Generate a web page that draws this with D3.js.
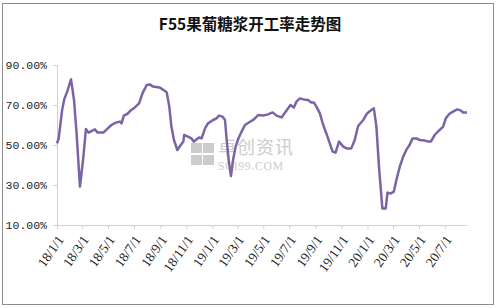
<!DOCTYPE html>
<html><head><meta charset="utf-8">
<script src="https://cdn.jsdelivr.net/npm/d3@7"></script>
<style>body{margin:0;background:#fff}svg{display:block}</style>
</head><body>
<svg id="c" width="497" height="308"></svg>
<script>
const title = "F55果葡糖浆开工率走势图";
const dates = ["2018-01-01","2018-01-05","2018-01-13","2018-01-18","2018-01-25","2018-02-03","2018-02-10","2018-02-16","2018-02-24","2018-03-04","2018-03-10","2018-03-16","2018-03-24","2018-03-31","2018-04-06","2018-04-20","2018-04-28","2018-05-09","2018-05-19","2018-05-29","2018-06-02","2018-06-07","2018-06-15","2018-06-23","2018-07-03","2018-07-13","2018-07-21","2018-07-31","2018-08-07","2018-08-15","2018-08-30","2018-09-06","2018-09-12","2018-09-16","2018-09-22","2018-09-27","2018-10-03","2018-10-11","2018-10-19","2018-10-25","2018-10-27","2018-11-05","2018-11-13","2018-11-19","2018-11-25","2018-12-01","2018-12-07","2018-12-15","2018-12-22","2019-01-03","2019-01-11","2019-01-17","2019-01-25","2019-01-31","2019-02-04","2019-02-09","2019-02-14","2019-02-19","2019-02-25","2019-03-03","2019-03-11","2019-03-19","2019-03-30","2019-04-09","2019-04-19","2019-05-01","2019-05-12","2019-05-23","2019-06-01","2019-06-13","2019-06-23","2019-07-04","2019-07-12","2019-07-18","2019-07-26","2019-08-04","2019-08-14","2019-08-22","2019-08-28","2019-09-03","2019-09-11","2019-09-19","2019-09-29","2019-10-11","2019-10-18","2019-10-26","2019-11-05","2019-11-13","2019-11-24","2019-12-02","2019-12-10","2019-12-22","2019-12-31","2020-01-10","2020-01-16","2020-01-22","2020-01-28","2020-02-05","2020-02-13","2020-02-17","2020-02-25","2020-03-03","2020-03-09","2020-03-17","2020-03-25","2020-04-02","2020-04-09","2020-04-16","2020-04-25","2020-05-03","2020-05-15","2020-05-23","2020-05-29","2020-06-07","2020-06-17","2020-06-27","2020-07-03","2020-07-11","2020-07-20","2020-07-30","2020-08-07","2020-08-13","2020-08-22"];
const rates = [50.8,53.3,67.5,72.8,76.7,82.8,72.5,56,29.2,44,58,56.2,57,57.8,56.3,56.2,57.8,60,61.2,61.7,60.8,64.7,65.5,67.2,68.8,70.8,75.8,80,80.3,79.2,78.8,77.8,77,76.3,69.2,59.2,52.5,47.5,50,51.7,55,54.2,53.3,51.7,52.8,53.8,53.3,58.3,60.8,62.5,63.3,64.7,64.2,62.5,52.5,41.7,34.5,42.5,49.2,53,56.7,60,61.5,62.8,65,64.7,65.3,66.3,64.7,63.8,66.7,70,68.7,71.7,73.3,72.8,72.5,71.2,71.2,69.2,65.8,60,54.2,46.7,46.2,51.7,49.2,48.3,48.3,52.5,59.5,62.5,65.8,67.5,68.3,59.2,39.2,18.3,18.3,26.2,25.8,26.7,32.5,39.2,44.2,47.8,50,53.3,53.3,52.5,52.2,51.7,51.7,55,57.2,59.2,63.3,65.5,66.7,67.8,67.3,66.3,66.2];
const yTicks = [10,30,50,70,90];
const xTickDates = ["2018-01-01","2018-03-01","2018-05-01","2018-07-01","2018-09-01","2018-11-01","2019-01-01","2019-03-01","2019-05-01","2019-07-01","2019-09-01","2019-11-01","2020-01-01","2020-03-01","2020-05-01","2020-07-01"];

const parse = d3.utcParse("%Y-%m-%d");
const data = dates.map((d,i)=>({date:parse(d), v:rates[i]}));
const svg = d3.select("#c");

svg.append("rect").attr("x",2.5).attr("y",3.5).attr("width",491).attr("height",301)
  .attr("fill","#fff").attr("stroke","#8c8c8c").attr("stroke-width",1);

svg.append("text").attr("x",250).attr("y",30).attr("text-anchor","middle")
  .attr("font-family","'Noto Sans CJK SC', sans-serif").attr("font-weight","bold")
  .attr("font-size",15.5).attr("fill","#111").text(title);

const x = d3.scaleUtc().domain([parse("2018-01-01"), parse("2020-08-22")]).range([57,467]);
const y = d3.scaleLinear().domain([10,90]).range([225,65]);

// watermark
const wm = svg.append("g").attr("fill","#cccccc");
[[0,0],[1,0],[0,1],[1,1]].forEach(([i,j])=>{
  wm.append("rect").attr("x",191+i*12).attr("y",143+j*12).attr("width",11).attr("height",10);
});
wm.append("text").attr("x",218).attr("y",154).attr("font-family","'Noto Sans CJK SC'").attr("font-size",18).attr("letter-spacing",1).text("卓创资讯");
wm.append("text").attr("x",218).attr("y",170).attr("font-family","'Liberation Serif'").attr("font-size",11.5).attr("letter-spacing",0.8).text("SCI99.COM");

// y axis
const yAxis = svg.append("g").attr("transform","translate(57,0)")
  .call(d3.axisLeft(y).tickValues(yTicks).tickSize(4).tickFormat(d=>d.toFixed(2)+"%"));
yAxis.select(".domain").attr("stroke","#d0d0d0");
yAxis.selectAll(".tick line").attr("stroke","#d0d0d0");
yAxis.selectAll("text").attr("font-family","'Liberation Mono', monospace").attr("font-size",11.5).attr("fill","#222").attr("x",-10);

// x axis
const xAxis = svg.append("g").attr("transform","translate(0,225)")
  .call(d3.axisBottom(x).tickValues(xTickDates.map(parse)).tickSize(4).tickSizeOuter(0)
    .tickFormat(d3.utcFormat("%y/%-m/%-d")));
xAxis.select(".domain").attr("stroke","#d0d0d0");
xAxis.selectAll(".tick line").attr("stroke","#d0d0d0");
xAxis.selectAll("text").attr("font-family","'Liberation Serif', serif").attr("font-size",13.5).attr("fill","#222")
  .attr("text-anchor","end").attr("dy","0.35em")
  .attr("transform","translate(3,12) rotate(-55)").attr("x",0).attr("y",0);

const line = d3.line().x(d=>x(d.date)).y(d=>y(d.v));
svg.append("path").datum(data).attr("d",line).attr("fill","none")
  .attr("stroke","#7a64a6").attr("stroke-width",2.5).attr("stroke-linejoin","round");
</script>
</body></html>
